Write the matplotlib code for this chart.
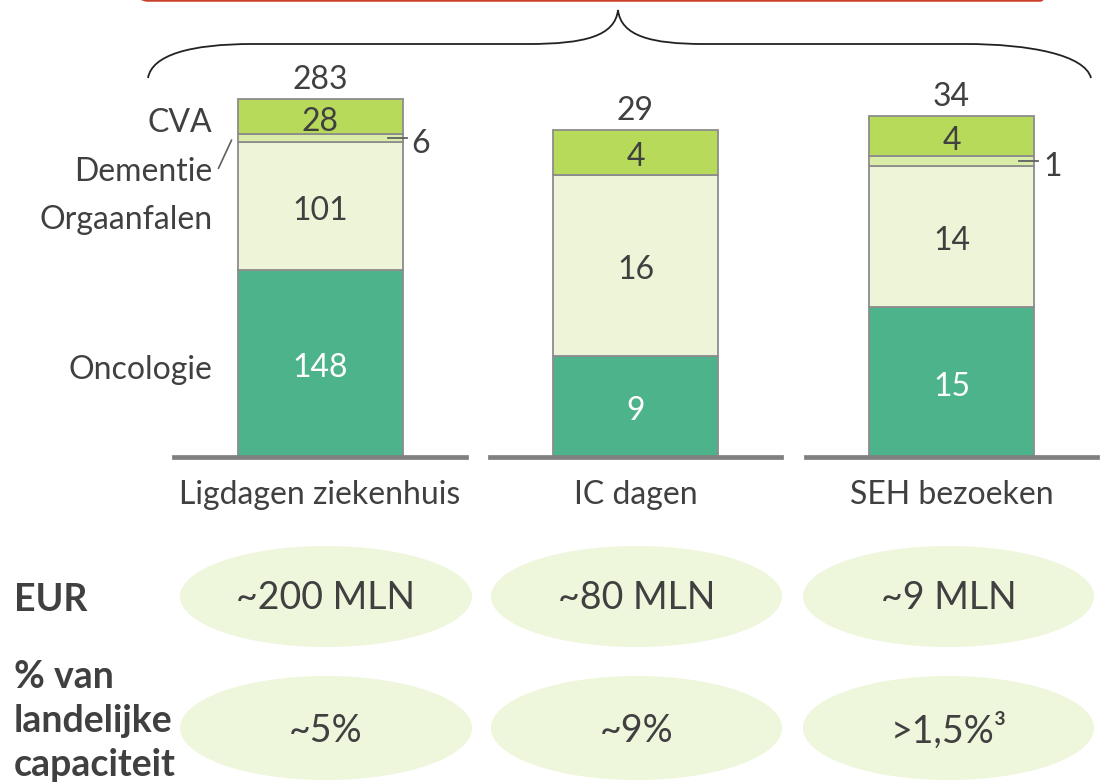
import matplotlib
matplotlib.use("Agg")
import matplotlib.pyplot as plt
from matplotlib.path import Path
from matplotlib.patches import PathPatch, Ellipse, FancyBboxPatch

plt.rcParams['font.family'] = ['Lato', 'DejaVu Sans']

# data
categories = ["Ligdagen ziekenhuis", "IC dagen", "SEH bezoeken"]
segments = ["Oncologie", "Orgaanfalen", "Dementie", "CVA"]
oncologie = [148, 9, 15]
orgaanfalen = [101, 16, 14]
dementie = [6, 0, 1]
cva = [28, 4, 4]
totals = [283, 29, 34]
eur_labels = ["~200 MLN", "~80 MLN", "~9 MLN"]
pct_labels = ["~5%", "~9%", ">1,5%³"]

# layout (pixels, y measured from top)
W, H = 1101, 782
base_px = 457
bar_tops_px = [99, 130, 116]
axes_x_px = [(174, 466), (490, 781), (806, 1097)]
bar_w_px = 165
ell_x_px = [(180, 472), (491, 782), (803, 1094)]

col_onc = "#4db38b"
col_org = "#edf4d8"
col_dem = "#d9eda9"
col_cva = "#b8da5a"
col_edge = "#8c8c8c"
txt = "#404040"
ell_col = "#eef6dc"
fs = 23
dy = -3.5  # small downward shift of labels (points)

fig = plt.figure(figsize=(W / 100, H / 100), dpi=100)

# overlay in pixel coordinates for the decorations
ov = fig.add_axes([0, 0, 1, 1])
ov.set_xlim(0, W)
ov.set_ylim(H, 0)
ov.axis("off")


def label(ax, s, xy, dx=0, ddy=0, **kw):
    ax.annotate(s, xy, xytext=(dx, dy + ddy), textcoords="offset points",
                va="center", fontsize=fs, annotation_clip=False, **kw)


top_px = 60
for i in range(3):
    x0, x1 = axes_x_px[i]
    ax = fig.add_axes([x0 / W, (H - base_px) / H, (x1 - x0) / W, (base_px - top_px) / H])
    ymax = totals[i] * (base_px - top_px) / (base_px - bar_tops_px[i])
    ax.set_ylim(0, ymax)
    ax.set_xlim(0, 1)
    ax.axis("off")
    bw = bar_w_px / (x1 - x0)
    vals = [oncologie[i], orgaanfalen[i], dementie[i], cva[i]]
    cols = [col_onc, col_org, col_dem, col_cva]
    bottom = 0
    mids = []
    for v, c in zip(vals, cols):
        if v > 0:
            ax.bar(0.5, v, bw, bottom=bottom, color=c, edgecolor=col_edge, linewidth=1.3, zorder=2)
        mids.append(bottom + v / 2)
        bottom += v
    ax.axhline(0, color="#808080", lw=3.4, zorder=3, clip_on=False)

    # segment labels
    label(ax, str(oncologie[i]), (0.5, mids[0]), ha="center", color="white", zorder=4)
    label(ax, str(orgaanfalen[i]), (0.5, mids[1]), ha="center", color=txt, zorder=4)
    label(ax, str(cva[i]), (0.5, mids[3]), ha="center", color=txt, zorder=4)
    if dementie[i] > 0:
        px = 1 / (x1 - x0)
        xr = 0.5 + bw / 2
        ax.plot([xr - 15 * px, xr + 4 * px], [mids[2], mids[2]], color="#606060", lw=1.3, zorder=4, clip_on=False)
        label(ax, str(dementie[i]), (xr + 9 * px, mids[2]), ddy=-1, ha="left", color=txt, zorder=4)
    label(ax, str(totals[i]), (0.5, totals[i]), ddy=17, ha="center", color=txt)
    label(ax, categories[i], (0.5, 0), ddy=-24, ha="center", color=txt)

    if i == 0:
        xl = 0.5 - bw / 2 - 25 / (x1 - x0)
        label(ax, "Oncologie", (xl, mids[0]), ddy=-1.5, ha="right", color=txt)
        label(ax, "Orgaanfalen", (xl, mids[1]), ddy=-7, ha="right", color=txt)
        label(ax, "Dementie", (xl, mids[2]), ddy=-21, ha="right", color=txt)
        label(ax, "CVA", (xl, mids[3]), ddy=-1, ha="right", color=txt)
        xb = 0.5 - bw / 2
        ax.plot([xb - 19 / (x1 - x0), xb - 6 / (x1 - x0)], [mids[2] - ymax * 30 / 397, mids[2] - ymax * 2 / 397],
                color="#606060", lw=1.2, clip_on=False)

# red box at the top (cut off)
ov.add_patch(FancyBboxPatch((138, -60), 912, 60.5, boxstyle="round,pad=0,rounding_size=10",
                            facecolor="none", edgecolor="#c8402a", lw=1.8, clip_on=False))

# curly brace
verts = [(148, 78), (152, 55), (190, 44), (253, 44),
         (528, 44),
         (585, 44), (615, 36), (618, 10),
         (621, 36), (651, 44), (704, 44),
         (965, 44),
         (1030, 44), (1085, 55), (1091, 78)]
codes = [Path.MOVETO, Path.CURVE4, Path.CURVE4, Path.CURVE4,
         Path.LINETO,
         Path.CURVE4, Path.CURVE4, Path.CURVE4,
         Path.CURVE4, Path.CURVE4, Path.CURVE4,
         Path.LINETO,
         Path.CURVE4, Path.CURVE4, Path.CURVE4]
ov.add_patch(PathPatch(Path(verts, codes), facecolor="none", edgecolor="#222222", lw=1.3))

# bottom ellipses
for i in range(3):
    xa, xb = ell_x_px[i]
    cx = (xa + xb) / 2
    ov.add_patch(Ellipse((cx, 596.5), xb - xa, 101, facecolor=ell_col, edgecolor="none"))
    ov.add_patch(Ellipse((cx, 728), xb - xa, 104, facecolor=ell_col, edgecolor="none"))
    ov.text(cx, 598, eur_labels[i], ha="center", va="center", fontsize=27, color=txt)
    ov.text(cx, 731, pct_labels[i], ha="center", va="center", fontsize=27, color=txt)

ov.text(14, 600, "EUR", ha="left", va="center", fontsize=27, fontweight="bold", color=txt)
for j, line in enumerate(["% van", "landelijke", "capaciteit"]):
    ov.text(14, 677 + 44 * j, line, ha="left", va="center", fontsize=27, fontweight="bold", color=txt)

fig.savefig("out.png", dpi=100)
